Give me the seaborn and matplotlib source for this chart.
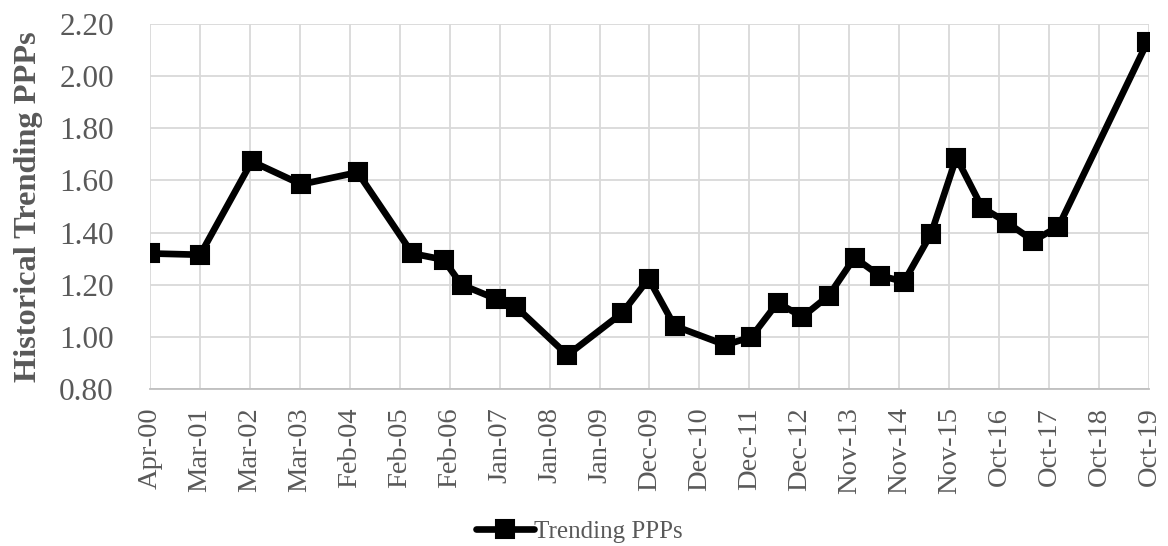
#importing important libraries

import matplotlib
matplotlib.use("Agg")
import matplotlib.pyplot as plt
import matplotlib.dates as mdates
import numpy as np
import pandas as pd
import seaborn as sns

# data
dates = ["2000-04-01", "2001-03-25", "2002-03-28", "2003-03-15", "2004-04-20",
         "2005-05-15", "2005-12-25", "2006-05-01", "2007-01-01", "2007-05-25",
         "2008-05-25", "2009-06-20", "2009-12-25", "2010-06-28", "2011-06-25",
         "2011-12-28", "2012-07-01", "2012-12-25", "2013-07-01", "2014-01-01",
         "2014-06-28", "2014-12-20", "2015-07-01", "2015-12-28", "2016-06-28",
         "2016-12-25", "2017-06-28", "2017-12-25", "2019-09-20"]
ppp = [1.32, 1.315, 1.673, 1.585, 1.631,
       1.32, 1.296, 1.20, 1.146, 1.115,
       0.93, 1.092, 1.223, 1.042, 0.969,
       1.00, 1.131, 1.077, 1.158, 1.304,
       1.235, 1.212, 1.396, 1.688, 1.496,
       1.438, 1.369, 1.423, 2.131]
tick_labels = ["Apr-00", "Mar-01", "Mar-02", "Mar-03", "Feb-04", "Feb-05", "Feb-06",
               "Jan-07", "Jan-08", "Jan-09", "Dec-09", "Dec-10", "Dec-11", "Dec-12",
               "Nov-13", "Nov-14", "Nov-15", "Oct-16", "Oct-17", "Oct-18", "Oct-19"]
y_ticks = [0.80, 1.00, 1.20, 1.40, 1.60, 1.80, 2.00, 2.20]

df = pd.DataFrame({"date": pd.to_datetime(dates), "ppp": ppp})

sns.set_style("white")
plt.rcParams['font.family'] = ['Liberation Serif', 'DejaVu Serif']

fig = plt.figure(figsize=(11.68, 5.46), dpi=100)
ax = fig.add_axes([0.1284, 0.2875, 0.8553, 0.6685])

sns.lineplot(data=df, x="date", y="ppp", ax=ax, color="black", linewidth=4.8,
             marker="s", markersize=13, markeredgecolor="black",
             markeredgewidth=1.5, solid_joinstyle="round",
             solid_capstyle="round", label="Trending PPPs")

# excel style date axis: evenly spaced ticks from first to last label
start = mdates.date2num(pd.Timestamp("2000-04-01"))
end = mdates.date2num(pd.Timestamp("2019-10-01"))
ticks = np.linspace(start, end, len(tick_labels))
ax.set_xlim(start, end)
ax.set_xticks(ticks)
ax.set_xticklabels(tick_labels, rotation=90, fontsize=20.5, color="#595959")
ax.set_ylim(0.80, 2.20)
ax.set_yticks(y_ticks)
ax.set_yticklabels([f"{v:.2f}" for v in y_ticks], fontsize=22.5, color="#595959")
ax.tick_params(axis="x", length=0, pad=13)
ax.tick_params(axis="y", length=0, pad=26)

ax.grid(True, color="#d9d9d9", linewidth=1.3)
ax.set_axisbelow(True)
for side in ["top", "right", "left"]:
    ax.spines[side].set_visible(False)
ax.spines["bottom"].set_color("#bfbfbf")
ax.spines["bottom"].set_linewidth(1.3)

ax.set_xlabel("")
ax.set_ylabel("Historical Trending PPPs", fontsize=23.3, fontweight="bold",
              color="#595959")
ax.yaxis.set_label_coords(-0.107, 0.5)

ax.get_legend().remove()
handles, labels = ax.get_legend_handles_labels()
fig.legend(handles, labels, loc="center", bbox_to_anchor=(0.496, 0.026),
           frameon=False, fontsize=18, handlelength=2.3, handletextpad=0.0,
           labelcolor="#595959")

fig.savefig("out.png", dpi=100)
